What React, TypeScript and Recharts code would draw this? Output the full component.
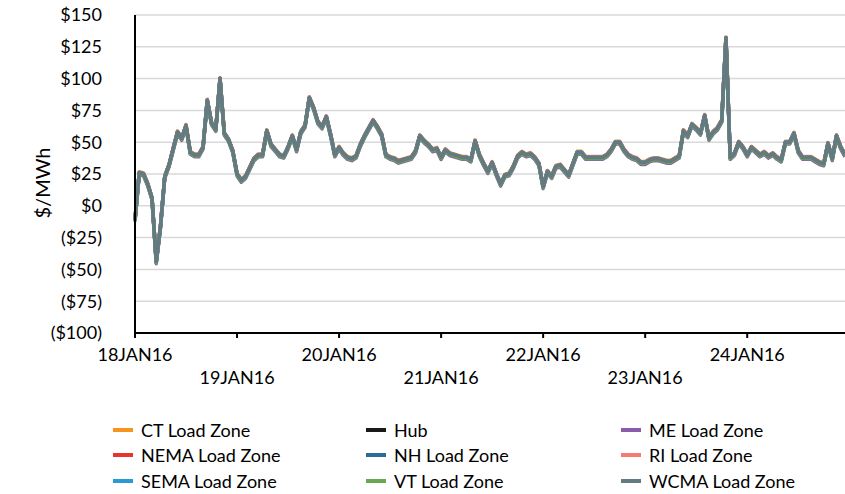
import React from 'react';
import { LineChart, Line, XAxis, YAxis, CartesianGrid } from 'recharts';

// hourly prices ($/MWh), one array per day
const jan18 = [-11, 26, 25, 17, 6, -44, -16, 23, 32, 45, 58, 53, 63, 42, 40, 40, 46, 83, 65, 60, 100, 57, 52, 43];
const jan19 = [25, 20, 23, 30, 37, 40, 40, 59, 48, 44, 40, 39, 46, 55, 44, 58, 63, 85, 77, 66, 62, 70, 56, 40];
const jan20 = [46, 41, 38, 37, 39, 48, 55, 61, 67, 62, 56, 40, 38, 37, 35, 36, 37, 38, 43, 55, 51, 48, 44, 45];
const jan21 = [38, 44, 41, 40, 39, 38, 38, 36, 51, 40, 33, 27, 34, 25, 17, 24, 25, 31, 39, 42, 40, 41, 38, 33];
const jan22 = [15, 27, 23, 31, 32, 28, 24, 33, 42, 42, 38, 38, 38, 38, 38, 40, 44, 50, 50, 44, 40, 38, 37, 34];
const jan23 = [34, 36, 37, 37, 36, 35, 35, 37, 39, 59, 55, 64, 61, 57, 71, 53, 58, 61, 67, 132, 38, 41, 50, 46];
const jan24 = [40, 46, 43, 40, 42, 39, 41, 38, 36, 50, 50, 57, 43, 38, 38, 38, 36, 34, 33, 49, 37, 55, 46, 40];

const dayLabels = ['18JAN16', '19JAN16', '20JAN16', '21JAN16', '22JAN16', '23JAN16', '24JAN16'];
const dayTicks = [0, 24, 48, 72, 96, 120, 144];
const yTicks = [-100, -75, -50, -25, 0, 25, 50, 75, 100, 125, 150];

const zones = ['CT Load Zone', 'Hub', 'ME Load Zone', 'NEMA Load Zone', 'NH Load Zone', 'RI Load Zone', 'SEMA Load Zone', 'VT Load Zone', 'WCMA Load Zone'];
const zoneColors = ['#F7941E', '#1A1A1A', '#8B5CA8', '#E8352B', '#2E6A97', '#F47C73', '#2A9AD6', '#6AA84F', '#637A82'];
// small spread of each zone against the hub, as seen at the line edges
const zoneBasis = [0.8, 0, -1.5, 0.3, -0.4, 0.3, 0.2, -0.8, 0];

const hubPrices = [...jan18, ...jan19, ...jan20, ...jan21, ...jan22, ...jan23, ...jan24];

const data = hubPrices.map((p, h) => {
  const row: Record<string, number> = { h };
  zones.forEach((z, i) => {
    row[z] = p + zoneBasis[i];
  });
  return row;
});

const money = (v: number) => (v < 0 ? `($${-v})` : `$${v}`);

const DayTick = (props: any) => {
  const { x, y, payload, index } = props;
  return (
    <text x={x} y={y + (index % 2 ? 44 : 21)} textAnchor="middle" fill="#000" fontSize={18}>
      {dayLabels[payload.value / 24]}
    </text>
  );
};

const legendCols = [113, 366, 621];
const legendRows = [430, 455, 481];

export default function App() {
  return (
    <div style={{ position: 'absolute', top: 0, left: 0, width: 845, height: 494, overflow: 'hidden', fontFamily: 'Lato, sans-serif', background: '#fff' }}>
      <LineChart width={845} height={400} data={data} margin={{ top: 15, right: 0, bottom: 0, left: 0 }}>
        <CartesianGrid vertical={false} stroke="#D9D9D9" strokeWidth={1.5} />
        <XAxis
          type="number"
          dataKey="h"
          domain={[0, 167]}
          ticks={dayTicks}
          interval={0}
          height={67}
          tickSize={5}
          tick={<DayTick />}
          axisLine={{ stroke: '#000', strokeWidth: 2 }}
          tickLine={{ stroke: '#000', strokeWidth: 2 }}
        />
        <YAxis
          domain={[-100, 150]}
          ticks={yTicks}
          interval={0}
          width={135}
          tickSize={0}
          tickMargin={33}
          tickFormatter={money}
          tick={{ fill: '#000', fontSize: 18 }}
          axisLine={{ stroke: '#000', strokeWidth: 2 }}
          tickLine={false}
        />
        {zones.map((z, i) => (
          <Line
            key={z}
            type="linear"
            dataKey={z}
            stroke={zoneColors[i]}
            strokeWidth={3.5}
            strokeLinejoin="round"
            dot={false}
            isAnimationActive={false}
          />
        ))}
      </LineChart>
      <div
        style={{
          position: 'absolute',
          left: 42,
          top: 183,
          transform: 'translate(-50%, -50%) rotate(-90deg)',
          fontSize: 20,
          whiteSpace: 'nowrap',
        }}
      >
        $/MWh
      </div>
      {zones.map((z, i) => (
        <div
          key={z}
          style={{
            position: 'absolute',
            left: legendCols[i % 3],
            top: legendRows[Math.floor(i / 3)] - 12,
            height: 24,
            display: 'flex',
            alignItems: 'center',
            fontSize: 18,
            whiteSpace: 'nowrap',
          }}
        >
          <span style={{ display: 'inline-block', width: 20, height: 4, background: zoneColors[i], marginRight: 8 }} />
          {z}
        </div>
      ))}
    </div>
  );
}
